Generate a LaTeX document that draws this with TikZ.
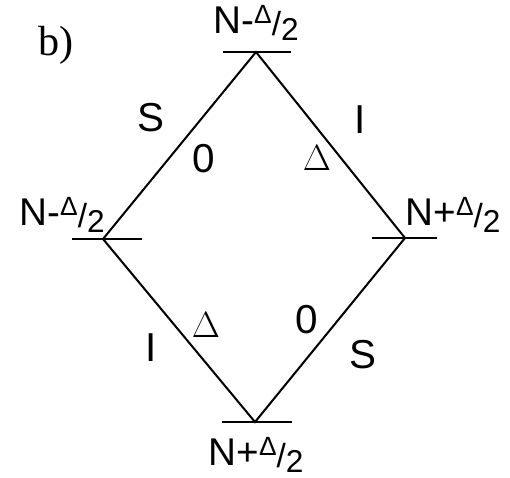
\documentclass[tikz,border=0pt]{standalone}
\usepackage{fontspec}
\setmainfont{Liberation Serif}
\setsansfont{Liberation Sans}
\usepackage{tikz}
\usetikzlibrary{calc}
\newcommand{\nhalf}[1]{{\fontsize{22}{24}\selectfont N#1}%
  \raisebox{5.5pt}{\fontsize{15}{17}\selectfont Δ}%
  \raisebox{-1.5pt}{\fontsize{19}{21}\selectfont /}%
  \raisebox{-4.5pt}{\fontsize{18}{20}\selectfont 2}}

\begin{document}
\begin{tikzpicture}[x=0.02cm,y=-0.02cm,line width=1.15pt,
    lvl/.style={font=\sffamily,anchor=base,inner sep=0pt},
    spin/.style={font=\sffamily\fontsize{23}{26}\selectfont,anchor=base,inner sep=0pt},
    rate/.style={font=\fontsize{20}{24}\selectfont,anchor=base,inner sep=0pt}]
        \useasboundingbox (0,0) rectangle (510,477);
        \node[font=\fontsize{24}{28}\selectfont,anchor=base,inner sep=0pt]
          (tag) at (56,55) {b)};
        % the four levels
        \coordinate (top) at (256,52);
        \coordinate (lft) at (103,239);
        \coordinate (rgt) at (405,238);
        \coordinate (bot) at (255,422);
        \draw (top) ++(-33,0) -- ++(68,0);
        \draw (lft) ++(-31,0) -- ++(70,0);
        \draw (rgt) ++(-33,0) -- ++(65,0);
        \draw (bot) ++(-33,0) -- ++(70,0);
        \node[lvl] (ltop) at (256,33) {\nhalf{-}};
        \node[lvl] (llft) at (62,225) {\nhalf{-}};
        \node[lvl] (lrgt) at (453,225) {\nhalf{+}};
        \node[lvl] (lbot) at (256,465) {\nhalf{+}};
        % transitions
        \draw (lft) -- (top) -- (rgt) -- (bot) -- cycle;
        \node[spin] (s1) at (151,131) {S};
        \node[spin] (i1) at (360,133) {I};
        \node[spin] (z1) at (204,172) {0};
        \node[rate] (d1) at (317,170) {$\Delta$};
        \node[rate] (d2) at (206,337) {$\Delta$};
        \node[spin] (z2) at (307,333) {0};
        \node[spin] (i2) at (151,361) {I};
        \node[spin] (s2) at (363,368) {S};
\end{tikzpicture}
\end{document}
